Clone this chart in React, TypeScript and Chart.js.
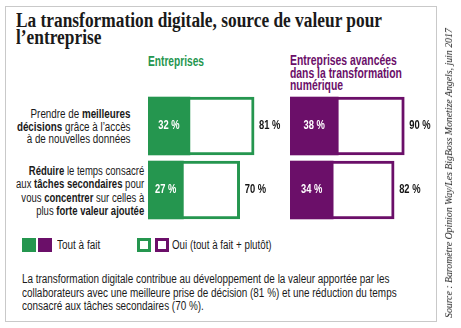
import React, { useEffect, useLayoutEffect, useRef } from "react";
import { Chart, registerables } from "chart.js";

Chart.register(...registerables);

const categories = [
  "Prendre de meilleures décisions grâce à l'accès à de nouvelles données",
  "Réduire le temps consacré aux tâches secondaires pour vous concentrer sur celles à plus forte valeur ajoutée",
];
const entreprisesToutAFait = [32, 27];
const entreprisesOui = [81, 70];
const avanceesToutAFait = [38, 34];
const avanceesOui = [90, 82];

const GREEN = "#25964f";
const PURPLE = "#6b0f69";
const SANS = "'Liberation Sans', Arial, sans-serif";
const TEXT = "#1a1a1a";

const labelPlugin = {
  id: "valueLabels",
  afterDatasetsDraw(chart: any) {
    const ctx = chart.ctx;
    const xs = chart.scales.x;
    const inner = chart.data.datasets[0].data;
    const outer = chart.data.datasets[1].data;
    const metaIn = chart.getDatasetMeta(0);
    const metaOut = chart.getDatasetMeta(1);
    const sx = 0.78;
    ctx.save();
    ctx.font = `bold 12px ${SANS}`;
    ctx.textBaseline = "middle";
    metaIn.data.forEach((bar: any, i: number) => {
      const x0 = xs.getPixelForValue(0);
      const x1 = xs.getPixelForValue(inner[i]);
      ctx.save();
      ctx.translate((x0 + x1) / 2, bar.y);
      ctx.scale(sx, 1);
      ctx.fillStyle = "#ffffff";
      ctx.textAlign = "center";
      ctx.fillText(`${inner[i]}\u00a0%`, 0, 0);
      ctx.restore();
    });
    metaOut.data.forEach((bar: any, i: number) => {
      ctx.save();
      ctx.translate(xs.getPixelForValue(outer[i]) + 5, bar.y);
      ctx.scale(sx, 1);
      ctx.fillStyle = "#151515";
      ctx.textAlign = "left";
      ctx.fillText(`${outer[i]}\u00a0%`, 0, 0);
      ctx.restore();
    });
    ctx.restore();
  },
};

function Fit({ w, style, origin = "0 0", pre = "", children }: any) {
  const ref = useRef<HTMLDivElement>(null);
  useLayoutEffect(() => {
    const el = ref.current!;
    el.style.transform = pre || "none";
    const natural = el.offsetWidth;
    el.style.transform = `${pre} scaleX(${w / natural})`;
  }, []);
  return (
    <div
      ref={ref}
      style={{ position: "absolute", whiteSpace: "nowrap", transformOrigin: origin, ...style }}
    >
      {children}
    </div>
  );
}

function BarBlock({ color, full, partial, left, width }: any) {
  const ref = useRef<HTMLCanvasElement>(null);
  useEffect(() => {
    const chart = new Chart(ref.current!, {
      type: "bar",
      data: {
        labels: categories,
        datasets: [
          {
            label: "Tout à fait",
            data: partial,
            backgroundColor: color,
            borderWidth: 0,
            barThickness: 58,
          },
          {
            label: "Oui (tout à fait + plutôt)",
            data: full,
            backgroundColor: "#ffffff",
            borderColor: color,
            borderWidth: 3,
            borderSkipped: false,
            barThickness: 58,
          },
        ],
      },
      options: {
        indexAxis: "y",
        responsive: false,
        animation: false,
        devicePixelRatio: 1,
        layout: { padding: { left: 0, right: 32, top: 0, bottom: 0 } },
        datasets: { bar: { grouped: false } },
        scales: {
          x: { min: 0, max: 100, display: false },
          y: { display: false },
        },
        plugins: { legend: { display: false }, tooltip: { enabled: false } },
      } as any,
      plugins: [labelPlugin],
    });
    return () => chart.destroy();
  }, []);
  return (
    <canvas
      ref={ref}
      width={width + 32}
      height={128}
      style={{ position: "absolute", left, top: 94, width: width + 32, height: 128 }}
    />
  );
}

export default function App() {
  const sans: React.CSSProperties = { fontFamily: SANS, color: TEXT };
  return (
    <div style={{ position: "fixed", left: 0, top: 0, width: 461, height: 328, background: "#fff", overflow: "hidden" }}>
      <div style={{ position: "absolute", left: 5, top: 6, width: 430, height: 314, border: "1px solid #c9c9c9" }} />
      <Fit
        w={366}
        style={{
          left: 16,
          top: 12,
          fontFamily: "'Liberation Serif', serif",
          fontWeight: "bold",
          fontSize: 20,
          lineHeight: "17px",
          color: TEXT,
        }}
      >
        La transformation digitale, source de valeur pour
        <br />
        l’entreprise
      </Fit>
      <Fit w={56} style={{ ...sans, left: 148, top: 53, fontSize: 14, fontWeight: "bold", color: GREEN }}>
        Entreprises
      </Fit>
      <Fit
        w={112}
        style={{ ...sans, left: 290, top: 54, fontSize: 14, lineHeight: "12.5px", fontWeight: "bold", color: PURPLE }}
      >
        Entreprises avancées
        <br />
        dans la transformation
        <br />
        numérique
      </Fit>
      <Fit
        w={114}
        origin="100% 0"
        style={{ ...sans, right: 461 - 131, top: 108, fontSize: 12.5, lineHeight: "12.5px", textAlign: "right" }}
      >
        Prendre de <b>meilleures</b>
        <br />
        <b>décisions</b> grâce à l’accès
        <br />à de nouvelles données
      </Fit>
      <Fit
        w={128}
        origin="100% 0"
        style={{ ...sans, right: 461 - 144, top: 165, fontSize: 12.5, lineHeight: "13.3px", textAlign: "right" }}
      >
        <b>Réduire</b> le temps consacré
        <br />
        aux <b>tâches secondaires</b> pour
        <br />
        vous <b>concentrer</b> sur celles à
        <br />
        plus <b>forte valeur ajoutée</b>
      </Fit>
      <BarBlock color={GREEN} full={entreprisesOui} partial={entreprisesToutAFait} left={148} width={131} />
      <BarBlock color={PURPLE} full={avanceesOui} partial={avanceesToutAFait} left={290} width={127} />
      {/* legend */}
      <div style={{ position: "absolute", left: 22, top: 238, width: 14, height: 14, background: GREEN }} />
      <div style={{ position: "absolute", left: 38, top: 238, width: 14, height: 14, background: PURPLE }} />
      <Fit w={43} style={{ ...sans, left: 57, top: 238, fontSize: 12.5 }}>
        Tout à fait
      </Fit>
      <div style={{ position: "absolute", left: 137, top: 238, width: 8, height: 8, border: `3px solid ${GREEN}` }} />
      <div style={{ position: "absolute", left: 155, top: 238, width: 8, height: 8, border: `3px solid ${PURPLE}` }} />
      <Fit w={100} style={{ ...sans, left: 172, top: 238, fontSize: 12.5 }}>
        Oui (tout à fait + plutôt)
      </Fit>
      <Fit w={375} style={{ ...sans, left: 22, top: 273, fontSize: 12.5, lineHeight: "13.5px" }}>
        La transformation digitale contribue au développement de la valeur apportée par les
        <br />
        collaborateurs avec une meilleure prise de décision (81 %) et une réduction du temps
        <br />
        consacré aux tâches secondaires (70 %).
      </Fit>
      <Fit
        w={290}
        origin="50% 50%"
        pre="translate(-50%, -50%) rotate(-90deg)"
        style={{
          left: 448,
          top: 173,
          fontFamily: "'Liberation Serif', serif",
          fontStyle: "italic",
          fontSize: 11,
          color: TEXT,
        }}
      >
        Source : Baromètre Opinion Way/Les BigBoss Monetize Angels, juin 2017
      </Fit>
    </div>
  );
}
